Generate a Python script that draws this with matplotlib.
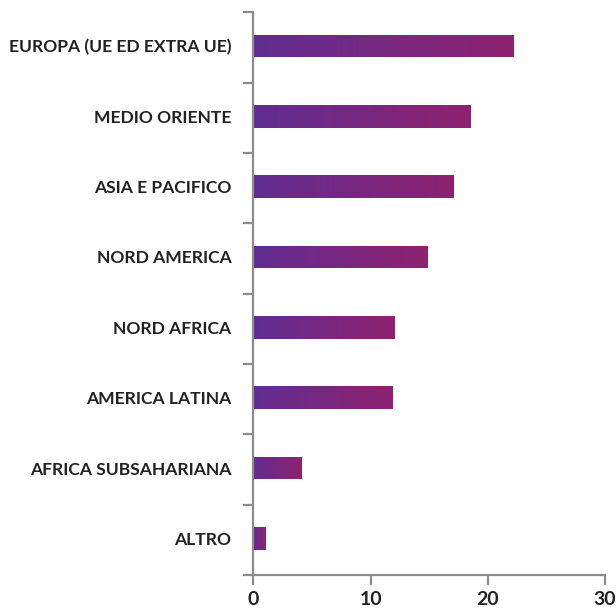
import matplotlib
matplotlib.use("Agg")
import matplotlib.pyplot as plt
import numpy as np
from matplotlib.colors import LinearSegmentedColormap
from matplotlib.patches import Rectangle

categories = ["EUROPA (UE ED EXTRA UE)", "MEDIO ORIENTE", "ASIA E PACIFICO",
              "NORD AMERICA", "NORD AFRICA", "AMERICA LATINA",
              "AFRICA SUBSAHARIANA", "ALTRO"]
values = [22.2, 18.6, 17.1, 14.9, 12.1, 11.9, 4.1, 1.1]
x_ticks = [0, 10, 20, 30]

plt.rcParams['font.family'] = ['Lato', 'DejaVu Sans']

fig = plt.figure(figsize=(6.16, 6.08), dpi=100)
ax = fig.add_axes([0.4115, 0.0543, 0.5705, 0.9257])

cmap = LinearSegmentedColormap.from_list("pm", ["#602d91", "#8f2270"])
grad = np.linspace(0, 1, 256).reshape(1, -1)
n = len(categories)
ypos = np.arange(n)[::-1]
bar_h = 0.32
off = 0.02
for y, v in zip(ypos, values):
    y0 = y + off - bar_h / 2
    rect = Rectangle((0, y0), v, bar_h, facecolor="none", edgecolor="none")
    ax.add_patch(rect)
    im = ax.imshow(grad, cmap=cmap, aspect="auto",
                   extent=[0, v, y0, y0 + bar_h], zorder=2)
    im.set_clip_path(rect)

ax.set_xlim(0, 30)
ax.set_ylim(-0.5, n - 0.5)
ax.set_xticks(x_ticks)
ax.set_xticklabels([str(t) for t in x_ticks])

ax.set_yticks(np.arange(-0.5, n, 1.0))
ax.set_yticklabels([])
ax.set_yticks(ypos + off, minor=True)
ax.set_yticklabels(categories, minor=True)

spine_c = "#8c8c8c"
for s in ["top", "right"]:
    ax.spines[s].set_visible(False)
for s in ["left", "bottom"]:
    ax.spines[s].set_color(spine_c)
    ax.spines[s].set_linewidth(1.6)

ax.tick_params(axis="y", which="major", direction="out", length=7.5, width=1.6, color=spine_c)
ax.tick_params(axis="y", which="minor", length=0, pad=16, labelsize=12.6, labelcolor="#222222")
ax.tick_params(axis="x", which="major", direction="out", length=7.5, width=1.6, color=spine_c,
               labelsize=14, labelcolor="#222222", pad=4)
for lbl in ax.get_yticklabels(minor=True):
    lbl.set_fontweight("bold")
for lbl in ax.get_xticklabels():
    lbl.set_fontweight("bold")

fig.savefig("out.png", dpi=100)
